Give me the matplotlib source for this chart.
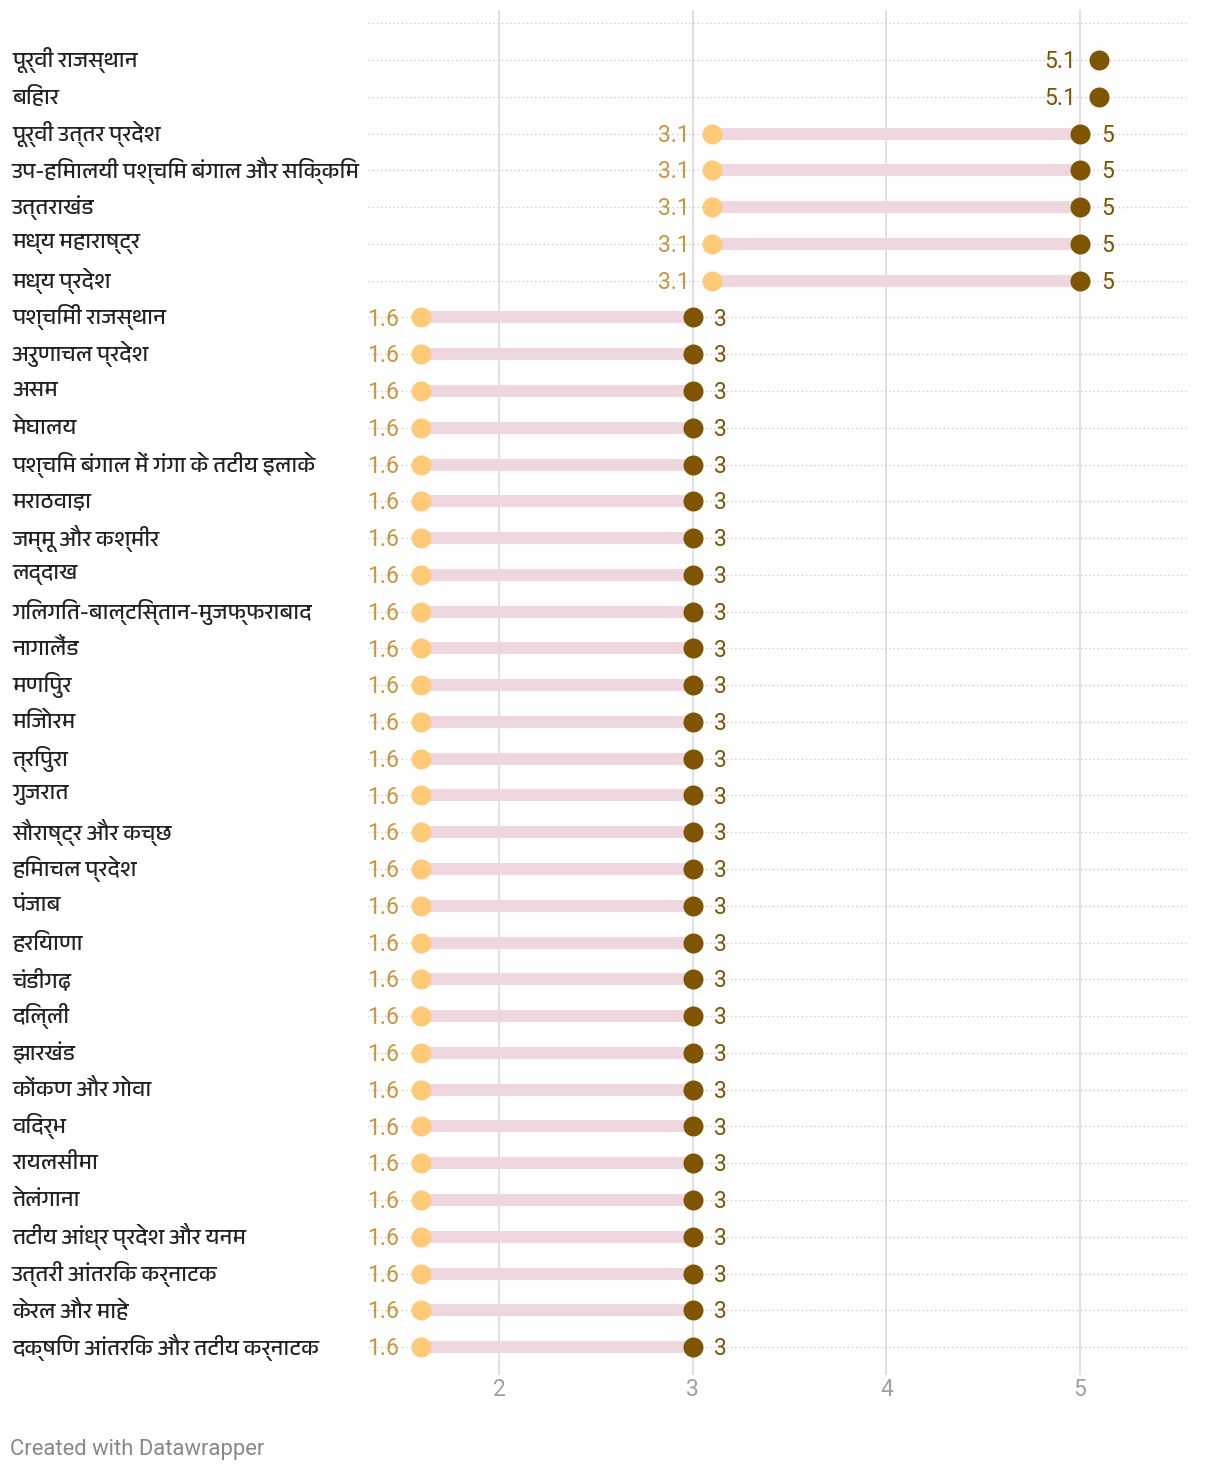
import matplotlib
matplotlib.use("Agg")
import matplotlib.pyplot as plt
from matplotlib import font_manager as fm
from matplotlib.ft2font import FT2Font

labels = [
    "पूर्वी राजस्थान", "बिहार", "पूर्वी उत्तर प्रदेश",
    "उप-हिमालयी पश्चिम बंगाल और सिक्किम", "उत्तराखंड", "मध्य महाराष्ट्र",
    "मध्य प्रदेश", "पश्चिमी राजस्थान", "अरुणाचल प्रदेश", "असम", "मेघालय",
    "पश्चिम बंगाल में गंगा के तटीय इलाके", "मराठवाड़ा", "जम्मू और कश्मीर",
    "लद्दाख", "गिलगित-बाल्टिस्तान-मुजफ्फराबाद", "नागालैंड", "मणिपुर",
    "मिजोरम", "त्रिपुरा", "गुजरात", "सौराष्ट्र और कच्छ", "हिमाचल प्रदेश",
    "पंजाब", "हरियाणा", "चंडीगढ़", "दिल्ली", "झारखंड", "कोंकण और गोवा",
    "विदर्भ", "रायलसीमा", "तेलंगाना", "तटीय आंध्र प्रदेश और यनम",
    "उत्तरी आंतरिक कर्नाटक", "केरल और माहे", "दक्षिण आंतरिक और तटीय कर्नाटक",
]
min_vals = [5.1, 5.1] + [3.1] * 5 + [1.6] * 29
max_vals = [5.1, 5.1] + [5] * 5 + [3] * 29
x_ticks = [2, 3, 4, 5]

LIGHT = "#FFCA76"
DARK = "#7F5500"
MIN_TXT = "#C8963E"
BAR = "#EFD7DF"
NUM_SIZE = 16.5


def find_deva_font():
    # matplotlib's default fonts have no Devanagari, look for one that does
    best = None
    for f in fm.fontManager.ttflist:
        try:
            cmap = FT2Font(f.fname).get_charmap()
        except Exception:
            continue
        if 0x092A in cmap:
            if "Devanagari" in f.name:
                return f.name
            best = best or f.name
    return best


deva = find_deva_font()
label_family = [deva, "DejaVu Sans"] if deva else ["DejaVu Sans"]

fig = plt.figure(figsize=(12.2, 14.76), dpi=100)
ax = fig.add_axes([368 / 1220, 1 - 1375 / 1476, (1188 - 368) / 1220, (1375 - 10) / 1476])

n = len(labels)
ax.set_xlim(1.324, 5.557)
ax.set_ylim(n - 1 + 0.76, -1.36)

for v in x_ticks:
    ax.axvline(v, color="#dddddd", lw=1.3, zorder=0)

# dotted row guides (one extra empty row on top)
for i in range(-1, n):
    ax.axhline(i, color="#cccccc", lw=1, ls=(0, (1, 2)), zorder=1)

# baseline offset so digits sit centred on the row
dy = -0.711 * NUM_SIZE / 2


def num_label(x, y, txt, dx, ha, color):
    ax.annotate(txt, (x, y), xytext=(dx, dy), textcoords="offset points",
                ha=ha, va="baseline", color=color, fontsize=NUM_SIZE, family="Roboto")


for i, (lo, hi) in enumerate(zip(min_vals, max_vals)):
    if lo != hi:
        ax.plot([lo, hi], [i, i], color=BAR, lw=8.6, solid_capstyle="butt", zorder=2)
        ax.plot(lo, i, "o", color=LIGHT, ms=14.4, mec="none", zorder=3)
        num_label(lo, i, f"{lo:g}", -16, "right", MIN_TXT)
        num_label(hi, i, f"{hi:g}", 15.5, "left", DARK)
    else:
        num_label(hi, i, f"{hi:g}", -17, "right", DARK)
    ax.plot(hi, i, "o", color=DARK, ms=14.4, mec="none", zorder=3)

# row labels at the left edge of the figure
for i, lab in enumerate(labels):
    ax.annotate(lab, xy=(0, i), xycoords=("figure fraction", "data"),
                xytext=(12 / 1220 * 12.2 * 72, 0), textcoords="offset points",
                ha="left", va="center", fontsize=16, color="#222222",
                family=label_family, annotation_clip=False)

ax.set_xticks(x_ticks)
ax.set_xticklabels([str(t) for t in x_ticks], family="Roboto", fontsize=NUM_SIZE, color="#a0a0a0")
ax.tick_params(axis="x", length=0, pad=2)
ax.set_yticks([])
for s in ax.spines.values():
    s.set_visible(False)

fig.text(10 / 1220, 1 - 1450 / 1476, "Created with Datawrapper", family="Roboto",
         fontsize=15.8, color="#888888", ha="left", va="center")

fig.savefig("out.png", dpi=100, facecolor="white")
